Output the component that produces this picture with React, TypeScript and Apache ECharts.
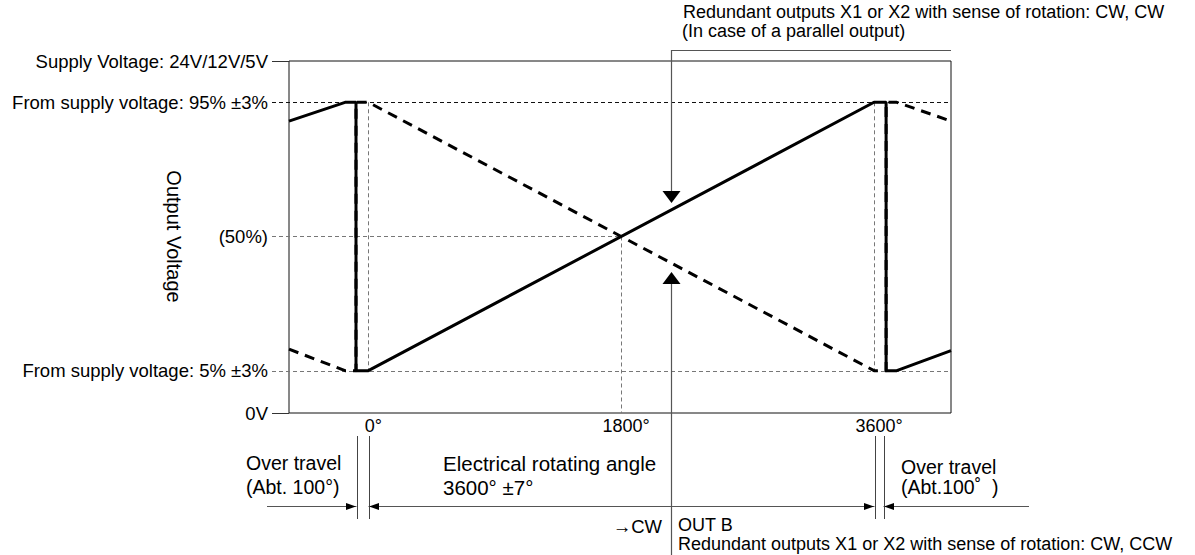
import React, { useEffect, useRef } from 'react';
import * as echarts from 'echarts';

// Axis ranges (degrees on x, % of supply voltage on y)
const xMin = -565;
const xMax = 4148;
const yMin = -9.2;
const yMax = 108.85;

const xTickValues = [0, 1800, 3600];
const yTickValues = [-9.2, 5, 50, 95, 108.85];
const yTickLabels = [
  '0V',
  'From supply voltage: 5% ±3%',
  '(50%)',
  'From supply voltage: 95% ±3%',
  'Supply Voltage: 24V/12V/5V',
];

// OUT A (solid) and OUT B (dashed), [angle°, %]
const outA: [number, number][] = [
  [-565, 88.7], [-166, 95], [-88, 95], [-88, 5], [0, 5],
  [3600, 95], [3686, 95], [3686, 5], [3762, 5], [4148, 11.7],
];
const outB: [number, number][] = [
  [-565, 12.2], [-166, 5], [-88, 5], [-88, 95], [0, 95],
  [3600, 5], [3686, 5], [3686, 95], [3762, 95], [4148, 88.7],
];

const refLevels = [95, 50, 5];
const refAngles = [0, 1800, 3600];
const crossing: [number, number] = [1800, 50];
const dimAngles = [-88, 0, 3600, 3664];
const arrowAngle = 2155;

const FONT = '"Liberation Sans", Arial, Helvetica, sans-serif';

export default function App() {
  const ref = useRef<HTMLDivElement>(null);

  useEffect(() => {
    document.body.style.margin = '0';
    if (!ref.current) return;
    const chart = echarts.init(ref.current, null, { renderer: 'svg' });

    chart.setOption({
      animation: false,
      backgroundColor: '#fff',
      grid: {
        left: 289, top: 61, width: 662, height: 352,
        show: true, borderColor: '#111', borderWidth: 1, backgroundColor: 'transparent',
      },
      xAxis: {
        type: 'value', min: xMin, max: xMax,
        axisLine: { show: false },
        axisTick: { show: false },
        splitLine: { show: false },
        axisLabel: {
          customValues: xTickValues,
          formatter: (v: number) => `${v}°`,
          fontSize: 18, fontFamily: FONT, color: '#000', margin: 4,
          padding: [0, 0, 0, 10],
        },
      },
      yAxis: {
        type: 'value', min: yMin, max: yMax,
        axisLine: { show: false },
        axisTick: { show: false },
        splitLine: { show: false },
        axisLabel: {
          customValues: yTickValues,
          formatter: (v: number) => {
            const i = yTickValues.findIndex((t) => Math.abs(t - v) < 1e-6);
            return i >= 0 ? yTickLabels[i] : '';
          },
          fontSize: 18.5, fontFamily: FONT, color: '#000', margin: 21,
        },
      },
      series: [
        {
          type: 'line', data: outB, symbol: 'none', z: 2,
          lineStyle: { color: '#000', width: 3, type: [10, 7] },
        },
        {
          type: 'line', data: outA, symbol: 'none', z: 3,
          lineStyle: { color: '#000', width: 3 },
        },
      ],
    });

    const P = (x: number, y: number) =>
      chart.convertToPixel({ xAxisIndex: 0, yAxisIndex: 0 }, [x, y]) as number[];
    const r = (v: number) => Math.round(v) + 0.5;

    const gl = P(xMin, 0)[0];
    const gr = P(xMax, 0)[0];
    const gt = P(0, yMax)[1];
    const gb = P(0, yMin)[1];
    const extL = gl - 17;

    const g: any[] = [];
    const hline = (x1: number, x2: number, y: number, stroke: string, dash?: number[]) =>
      g.push({
        type: 'line', silent: true,
        shape: { x1, y1: r(y), x2, y2: r(y) },
        style: { stroke, lineWidth: 1, lineDash: dash },
      });
    const vline = (x: number, y1: number, y2: number, stroke: string, dash?: number[]) =>
      g.push({
        type: 'line', silent: true,
        shape: { x1: r(x), y1, x2: r(x), y2 },
        style: { stroke, lineWidth: 1, lineDash: dash },
      });

    // reference levels
    refLevels.forEach((lv) => {
      const y = P(0, lv)[1];
      const x2 = lv === crossing[1] ? P(crossing[0], lv)[0] : gr;
      hline(extL, x2, y, lv === 95 ? '#111' : '#777', [4, 3]);
    });
    // top / bottom extensions
    hline(extL, gl, gt, '#333');
    hline(extL, gl, gb, '#333');
    // reference angles
    refAngles.forEach((a) => {
      const x = P(a, 0)[0];
      if (a === crossing[0]) vline(x, P(a, crossing[1])[1], gb, '#777', [4, 3]);
      else vline(x, P(a, 95)[1], P(a, 5)[1], '#777', [4, 3]);
    });

    // dimension lines
    const dimY = gb + 93;
    const dx = dimAngles.map((a) => r(P(a, 0)[0]));
    dx.forEach((x) => vline(x, gb + 23, gb + 106, '#444'));
    hline(extL - 5, dx[0], dimY, '#555');
    hline(dx[1], dx[2], dimY, '#555');
    hline(dx[3], gr + 78, dimY, '#555');
    const yy = r(dimY);
    const arrowR = (t: number) => ({
      type: 'polygon', silent: true,
      shape: { points: [[t, yy], [t - 10, yy - 3.5], [t - 10, yy + 3.5]] },
      style: { fill: '#000' },
    });
    const arrowL = (t: number) => ({
      type: 'polygon', silent: true,
      shape: { points: [[t, yy], [t + 10, yy - 3.5], [t + 10, yy + 3.5]] },
      style: { fill: '#000' },
    });
    g.push(arrowR(dx[0] - 0.5), arrowL(dx[1] + 0.5), arrowR(dx[2] - 0.5), arrowL(dx[3] + 0.5));

    // OUT arrows
    const xa = r(P(arrowAngle, 0)[0]);
    g.push({
      type: 'polyline', silent: true,
      shape: { points: [[gr, r(gt - 11)], [xa, r(gt - 11)], [xa, 192]] },
      style: { stroke: '#555', lineWidth: 1.2, fill: 'none' },
    });
    g.push({
      type: 'polygon', silent: true,
      shape: { points: [[xa, 203], [xa - 9, 191], [xa + 9, 191]] },
      style: { fill: '#000' },
    });
    g.push({
      type: 'line', silent: true,
      shape: { x1: xa, y1: 282, x2: xa, y2: 555 },
      style: { stroke: '#555', lineWidth: 1.2 },
    });
    g.push({
      type: 'polygon', silent: true,
      shape: { points: [[xa, 272], [xa - 9, 284], [xa + 9, 284]] },
      style: { fill: '#000' },
    });

    const txt = (text: string, x: number, y: number, size: number, align = 'left', extra: any = {}) =>
      g.push({
        type: 'text', silent: true, x, y, ...extra,
        style: {
          text, font: `${size}px ${FONT}`, fill: '#000',
          align, verticalAlign: 'middle', textAlign: align, textVerticalAlign: 'middle',
        },
      });

    txt('Output Voltage', 174, 236.5, 20, 'center', { rotation: -Math.PI / 2 });
    txt('Redundant outputs X1 or X2 with sense of rotation: CW, CW', 683, 12, 18);
    txt('(In case of a parallel output)', 682, 31, 18);
    txt('Over travel', 246, 463, 19.5);
    txt('(Abt. 100°)', 246, 487, 19.5);
    txt('Electrical rotating angle', 443, 463, 20.5);
    txt('3600° ±7°', 443, 487, 20.5);
    txt('→CW', 662, 526, 18.5, 'right');
    txt('OUT B', 678, 525, 18);
    txt('Redundant outputs X1 or X2 with sense of rotation: CW, CCW', 678, 544, 18);
    txt('Over travel', 901, 467, 19.5);
    txt('(Abt.100˚  )', 901, 487, 19.5);

    chart.setOption({ graphic: g });

    return () => chart.dispose();
  }, []);

  return <div ref={ref} style={{ width: 1195, height: 555 }} />;
}
